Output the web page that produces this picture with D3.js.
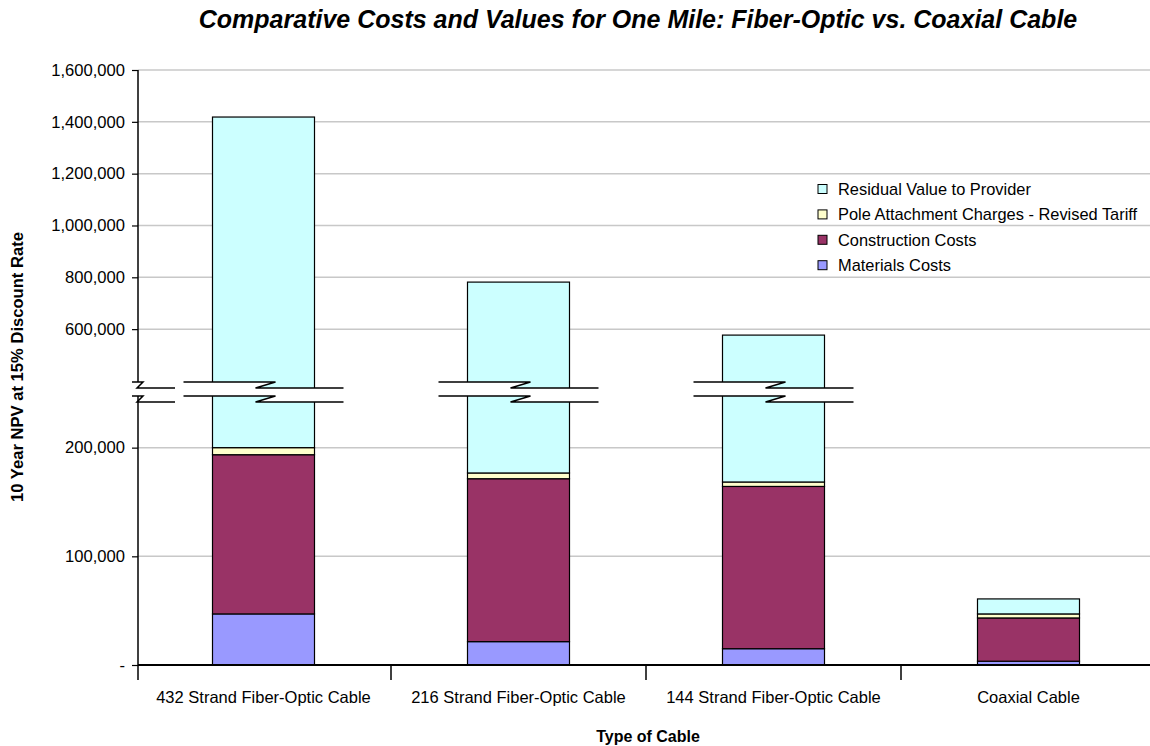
<!DOCTYPE html>
<html><head><meta charset="utf-8">
<script src="https://cdn.jsdelivr.net/npm/d3@7"></script>
<style>
body{margin:0;background:#fff;}
svg{display:block;font-family:"Liberation Sans",Arial,sans-serif;}
</style></head>
<body><svg id="c" width="1150" height="746"></svg>
<script>
const categories = ["432 Strand Fiber-Optic Cable","216 Strand Fiber-Optic Cable","144 Strand Fiber-Optic Cable","Coaxial Cable"];
const seriesNames = ["Materials Costs","Construction Costs","Pole Attachment Charges - Revised Tariff","Residual Value to Provider"];
const materials = [47000, 21500, 15000, 3500];
const construction = [146500, 149900, 149300, 39800];
const pole = [6500, 5300, 4100, 3700];
const residual = [1218500, 604800, 408600, 13800];
const colors = ["#9999FF","#993366","#FFFFCC","#CCFFFF"];
const lowerTicks = [0, 100000, 200000];
const upperTicks = [600000, 800000, 1000000, 1200000, 1400000, 1600000];
const breakLow = 242000, breakHigh = 396000;

const svg = d3.select("#c");
const axisX = 138, plotRight = 1150;
const y = d3.scaleLinear().domain([0, breakLow, breakHigh, 1600000]).range([665, 402, 382, 70]);
const x = d3.scaleBand().domain(categories).range([136, 1156]).paddingInner(0.6).paddingOuter(0.3);
const xb = d3.scaleBand().domain(categories).range([136, 1156]).padding(0);

const data = categories.map((c,i)=>({cat:c, m:materials[i], c2:construction[i], p:pole[i], r:residual[i]}));
const stack = d3.stack().keys(["m","c2","p","r"])(data);

// gridlines
const allTicks = lowerTicks.concat(upperTicks);
svg.append("g").selectAll("line").data(allTicks.filter(d=>d>0)).join("line")
  .attr("x1", axisX).attr("x2", plotRight).attr("y1", d=>y(d)).attr("y2", d=>y(d))
  .attr("stroke", "#c8c8c8").attr("stroke-width", 1.5);

// bars
svg.append("g").selectAll("g").data(stack).join("g").attr("fill",(d,i)=>colors[i])
  .selectAll("rect").data(d=>d).join("rect")
  .attr("x", d=>x(d.data.cat)).attr("width", x.bandwidth())
  .attr("y", d=>y(d[1])).attr("height", d=>y(d[0])-y(d[1]))
  .attr("stroke","#000").attr("stroke-width",1.2);

// y axis
const yAxis = d3.axisLeft(y).tickValues(allTicks).tickSize(6).tickPadding(7)
  .tickFormat(d=> d===0 ? "-" : d3.format(",")(d));
const gy = svg.append("g").attr("transform",`translate(${axisX},0)`).call(yAxis);
gy.select(".domain").remove();
gy.selectAll(".tick line").attr("stroke","#000").attr("stroke-width",1.2);
gy.selectAll(".tick text").attr("font-size","16.6px").attr("fill","#000").attr("font-family","Liberation Sans, Arial, sans-serif");
svg.append("line").attr("x1",axisX).attr("x2",axisX).attr("y1",y(1600000)).attr("y2",680)
  .attr("stroke","#000").attr("stroke-width",1.5);

// x axis
svg.append("line").attr("x1",axisX).attr("x2",plotRight).attr("y1",y(0)).attr("y2",y(0))
  .attr("stroke","#000").attr("stroke-width",1.8);
svg.append("g").selectAll("line").data(categories.slice(1)).join("line")
  .attr("x1",d=>xb(d)).attr("x2",d=>xb(d)).attr("y1",y(0)).attr("y2",680)
  .attr("stroke","#000").attr("stroke-width",1.5);
svg.append("g").selectAll("text").data(categories).join("text")
  .attr("x",d=>x(d)+x.bandwidth()/2).attr("y",703).attr("text-anchor","middle")
  .attr("font-size","16.5px").text(d=>d);

// axis break markers
const gap = y(breakLow) - y(breakHigh);
function breakPiece(x0, x1, xz, zw){
  const yt = y(breakHigh), dz = 6, h = gap - dz;
  const poly = [[x0,yt],[xz+zw,yt],[xz-zw,yt+dz],[x1,yt+dz],[x1,yt+dz+h],[xz-zw,yt+dz+h],[xz+zw,yt+h],[x0,yt+h]];
  const g = svg.append("g");
  g.append("path").attr("d","M"+poly.map(p=>p.join(",")).join("L")+"Z").attr("fill","#fff");
  const line = d3.line();
  g.append("path").attr("d",line(poly.slice(0,4))).attr("fill","none").attr("stroke","#000").attr("stroke-width",1.5);
  g.append("path").attr("d",line(poly.slice(4,8))).attr("fill","none").attr("stroke","#000").attr("stroke-width",1.5);
}
breakPiece(132, 175, 140, 3);
data.forEach(d=>{
  const tot = d.m+d.c2+d.p+d.r;
  if (tot > breakHigh){
    const bx = x(d.cat), bw = x.bandwidth();
    breakPiece(bx-29, bx+bw+29, bx+bw/2+2, 10);
  }
});

// titles
svg.append("text").attr("x",638).attr("y",28).attr("text-anchor","middle")
  .attr("font-size","25px").attr("font-weight","bold").attr("font-style","italic")
  .text("Comparative Costs and Values for One Mile: Fiber-Optic vs. Coaxial Cable");
svg.append("text").attr("x",648).attr("y",742).attr("text-anchor","middle")
  .attr("font-size","16px").attr("font-weight","bold").text("Type of Cable");
svg.append("text").attr("transform","translate(23,367) rotate(-90)").attr("text-anchor","middle")
  .attr("font-size","16.6px").attr("font-weight","bold").text("10 Year NPV at 15% Discount Rate");

// legend
const legendOrder = [3,2,1,0];
const lg = svg.append("g").selectAll("g").data(legendOrder).join("g")
  .attr("transform",(d,i)=>`translate(818,${189 + i*25.4})`);
lg.append("rect").attr("x",0).attr("y",-4.5).attr("width",9).attr("height",9)
  .attr("fill",d=>colors[d]).attr("stroke","#000").attr("stroke-width",1);
lg.append("text").attr("x",20).attr("y",6).attr("font-size","16.4px").text(d=>seriesNames[d]);
</script></body></html>
